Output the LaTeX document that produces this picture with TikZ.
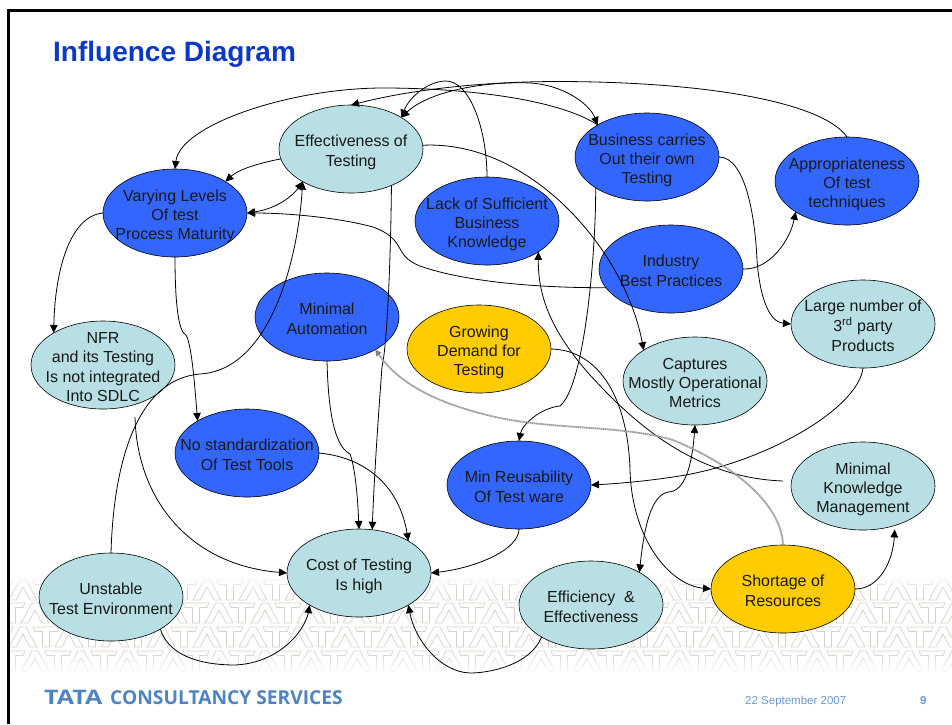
\documentclass[tikz,border=0pt]{standalone}
\usepackage{fontspec}
\setmainfont{Liberation Sans}
\newfontfamily\logofont{Open Sans}
\usetikzlibrary{shapes.geometric,arrows.meta,fadings}
\definecolor{paleteal}{HTML}{B8DFE3}
\definecolor{royal}{HTML}{3366FF}
\definecolor{amber}{HTML}{FFCC00}
\definecolor{titleblue}{HTML}{0A38C8}
\definecolor{logoblue}{HTML}{4F83C3}
\definecolor{dateblue}{HTML}{6A97D8}
\definecolor{wmark}{HTML}{D6D2CA}
\newcommand{\etxt}[1]{\vbox to 0pt{\vss\hbox to 0pt{\hss\begin{tabular}{@{}c@{}}#1\end{tabular}\hss}\vss\kern-7pt}}
\tikzset{
  bub/.style={ellipse,draw=black,line width=.6pt,minimum width=144pt,minimum height=88pt,inner sep=0pt,outer sep=0pt,text=black!90,font=\fontsize{16}{19.3}\selectfont},
  teal/.style={bub,fill=paleteal},
  blue/.style={bub,fill=royal},
  gold/.style={bub,fill=amber},
  conn/.style={draw=black,line width=.8pt},
  arr/.style={conn,-{Triangle[length=8pt,width=7.5pt]}},
  biarr/.style={conn,{Triangle[length=8pt,width=7.5pt]}-{Triangle[length=8pt,width=7.5pt]}},
  greyarr/.style={draw=black!38,line width=1.8pt,dash pattern=on 1.6pt off .5pt,-{Triangle[length=6pt,width=6pt,black!50]}},
  wm/.style={draw=wmark,line width=.7pt},
}
\newcommand{\wmT}[2]{\draw[wm] (#1-13,#2) -- (#1+13,#2) -- (#1+11,#2+4.5) -- (#1+3.5,#2+4.5) -- (#1+3.5,#2+20) -- (#1-3.5,#2+20) -- (#1-3.5,#2+4.5) -- (#1-11,#2+4.5) -- cycle;}
\newcommand{\wmA}[2]{\draw[wm] (#1-3,#2) -- (#1+3,#2) -- (#1+14,#2+20) -- (#1+7,#2+20) -- (#1,#2+7) -- (#1-7,#2+20) -- (#1-14,#2+20) -- cycle;}
\begin{document}
\begin{tikzpicture}[x=1pt,y=-1pt]
\useasboundingbox (0,0) rectangle (952,724);
\fill[white] (0,0) rectangle (952,724);
% watermark band
\begin{scope}
\clip (9,572) rectangle (952,680);
\foreach \r/\yy/\off in {0/580/0,1/603/12,2/627/0,3/651/12}{
  \foreach \k in {-1,...,21}{
    \pgfmathsetmacro{\xa}{\k*46+\off}
    \pgfmathsetmacro{\xb}{\k*46+23+\off}
    \wmT{\xa}{\yy}
    \wmA{\xb}{\yy}
  }
}
\end{scope}
\fill[white,path fading=south] (0,574) rectangle (952,592);
\fill[white,path fading=north] (0,652) rectangle (952,676);
% frame
\draw[black,line width=2.2pt] (952,10.5) -- (8.5,10.5) -- (8.5,724);
% title
\node[anchor=base west,inner sep=0pt,text=titleblue,font=\fontsize{28}{30}\selectfont\bfseries] (title) at (53,61) {Influence Diagram};
% nodes
\node[teal] (eff) at (351,149) {\etxt{Effectiveness of\\Testing}};
\node[blue] (biz) at (647,157) {\etxt{Business carries\\Out their own\\Testing}};
\node[blue] (app) at (847,181) {\etxt{Appropriateness\\Of test\\techniques}};
\node[blue] (var) at (175,213) {\etxt{Varying Levels\\Of test\\Process Maturity}};
\node[blue] (lack) at (487,221) {\etxt{Lack of Sufficient\\Business\\Knowledge}};
\node[blue] (ind) at (671,269) {\etxt{Industry\\Best Practices}};
\node[blue] (auto) at (327,317) {\etxt{Minimal\\Automation\\ }};
\node[teal] (large) at (863,324) {\etxt{Large number of\\3\textsuperscript{rd} party\\Products}};
\node[gold] (grow) at (479,349) {\etxt{Growing\\Demand for\\Testing}};
\node[teal] (capt) at (695,381) {\etxt{Captures\\Mostly Operational\\Metrics}};
\node[teal] (nfr) at (103,365) {\etxt{NFR\\and its Testing\\Is not integrated\\Into SDLC}};
\node[blue] (nostd) at (247,453) {\etxt{No standardization\\Of Test Tools}};
\node[blue] (reuse) at (519,485) {\etxt{Min Reusability\\Of Test ware}};
\node[teal] (know) at (863,486) {\etxt{Minimal\\Knowledge\\Management}};
\node[teal] (cost) at (359,573) {\etxt{Cost of Testing\\Is high}};
\node[teal] (unst) at (111,597) {\etxt{Unstable\\Test Environment}};
\node[teal] (effic) at (591,605) {\etxt{Efficiency~~\&\\Effectiveness}};
\node[gold] (short) at (783,589) {\etxt{Shortage of\\Resources}};
% free ends
\coordinate (nfrgap) at (135,417);
\coordinate (knowgap) at (783,481);
% connectors
\draw[arr] (biz.147) .. controls (560,100) and (470,88) .. (383,88) .. controls (290,88) and (180,125) .. (var.90);
\draw[arr] (app.90) .. controls (825,105) and (720,82) .. (560,81.5) .. controls (480,81.5) and (410,90) .. (eff.90);
\draw[arr] (lack.90) .. controls (487,130) and (470,80) .. (445,81) .. controls (425,82) and (408,100) .. (eff.32);
\draw[biarr] (eff.32) .. controls (430,90) and (490,81) .. (530,83) .. controls (565,85) and (590,105) .. (biz.147);
\draw[arr] (eff.188) .. controls (255,164) and (238,170) .. (var.32);
\draw[biarr] (var.0) .. controls (275,209) and (292,197) .. (eff.214);
\draw[arr] (unst.90) .. controls (113,480) and (130,380) .. (200,374) .. controls (270,370) and (298,260) .. (eff.214);
\draw[arr] (ind.196) .. controls (540,288) and (465,282) .. (420,266) .. controls (392,255) and (408,240) .. (373,227) .. controls (340,218) and (290,213) .. (var.0);
\draw[arr] (var.180) .. controls (70,216) and (55,270) .. (nfr.147);
\draw[arr] (var.270) .. controls (175,300) and (178,332) .. (186,335) .. controls (192,345) and (195,390) .. (nostd.147);
\draw[arr] (nfrgap) .. controls (137,500) and (190,565) .. (cost.180);
\draw[arr] (auto.270) .. controls (328,400) and (332,445) .. (350,454) .. controls (356,470) and (358,505) .. (cost.90);
\draw[arr] (eff.-42) .. controls (391,240) and (388,340) .. (382,367) .. controls (378,420) and (374,480) .. (cost.73);
\draw[arr] (nostd.0) .. controls (370,458) and (400,490) .. (cost.33);
\draw[arr] (biz.211) .. controls (596,250) and (585,385) .. (560,406) .. controls (540,408) and (522,425) .. (reuse.90);
\draw[arr] (reuse.270) .. controls (519,550) and (475,568) .. (cost.0);
\draw[arr] (eff.3) .. controls (530,140) and (625,250) .. (capt.149);
\draw[arr] (biz.0) .. controls (745,157) and (755,215) .. (757,260) .. controls (760,300) and (770,322) .. (large.180);
\draw[arr] (ind.0) .. controls (770,270) and (790,240) .. (app.211);
\draw[arr] (knowgap) .. controls (700,478) and (640,430) .. (590,375) .. controls (550,330) and (538,295) .. (lack.-31);
\draw[arr] (large.270) .. controls (858,410) and (760,465) .. (673,477) .. controls (640,482) and (610,484) .. (reuse.0);
\draw[arr] (grow.0) .. controls (600,350) and (628,400) .. (630,470) .. controls (632,540) and (670,585) .. (short.180);
\draw[biarr] (capt.270) .. controls (692,465) and (685,492) .. (668,492) .. controls (650,496) and (644,530) .. (effic.34);
\draw[arr,shorten >=4pt] (short.0) .. controls (880,589) and (893,560) .. (know.-51);
\draw[greyarr] (short.90) .. controls (782,510) and (745,470) .. (673,440) .. controls (620,425) and (560,430) .. (500,418) .. controls (440,405) and (400,385) .. (auto.-34);
\draw[arr] (effic.213) .. controls (530,665) and (490,673) .. (470,673) .. controls (440,672) and (415,640) .. (cost.-33);
\draw[arr] (unst.-33) .. controls (170,660) and (210,665) .. (235,665) .. controls (280,663) and (305,630) .. (cost.213);
% footer
\node[anchor=base west,inner sep=0pt,text=logoblue,font=\logofont\fontsize{20}{22}\selectfont\bfseries] (logoa) at (44,704.5) {\scalebox{1.25}[1]{TATA}};
\node[anchor=base west,inner sep=0pt,text=logoblue,font=\logofont\fontsize{19.2}{22}\selectfont\bfseries] (logob) at (110,704.5) {CONSULTANCY SERVICES};
\node[anchor=base west,inner sep=0pt,text=dateblue,font=\fontsize{11.5}{13}\selectfont] (date) at (745,704) {22 September 2007};
\node[anchor=base west,inner sep=0pt,text=dateblue,font=\fontsize{11.5}{13}\selectfont\bfseries] (page) at (920,704) {9};
\end{tikzpicture}
\end{document}
